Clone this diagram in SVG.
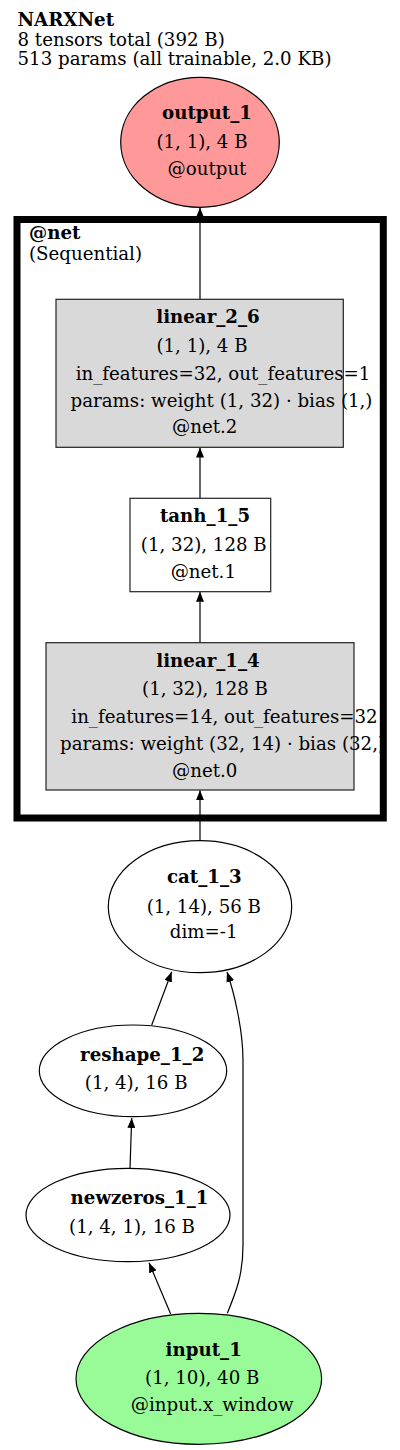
<svg xmlns="http://www.w3.org/2000/svg" width="400" height="1450" viewBox="0 0 400 1450">
<style>
text{font-family:"DejaVu Serif","Liberation Serif",serif;font-size:18.2px;fill:#000}
.b{font-weight:bold}
.m{text-anchor:middle}
.edge{fill:none;stroke:#000;stroke-width:1.2;marker-end:url(#ah)}
.ell{stroke:#000;stroke-width:1.2}
.box{stroke:#222;stroke-width:1.2}
</style>
<defs>
<marker id="ah" viewBox="0 0 10 8" refX="10" refY="4" markerWidth="10" markerHeight="8" markerUnits="userSpaceOnUse" orient="auto">
<path d="M0,0 L10,4 L0,8 z" fill="#000"/>
</marker>
</defs>
<rect width="400" height="1450" fill="#fff"/>
<g id="header">
<text class="b" x="17.5" y="26">NARXNet</text>
<text x="17.5" y="45.5">8 tensors total (392 B)</text>
<text x="17.5" y="64.5">513 params (all trainable, 2.0 KB)</text>
</g>
<g id="cluster_net">
<rect x="17" y="219.5" width="366.3" height="598.5" fill="none" stroke="#000" stroke-width="7"/>
<text class="b" x="29" y="239">@net</text>
<text x="29" y="260">(Sequential)</text>
</g>
<g id="edges">
<path class="edge" d="M200,299.3 L200,207.5"/>
<path class="edge" d="M200,498.3 L200,447.5"/>
<path class="edge" d="M200,642.7 L200,591.8"/>
<path class="edge" d="M200,840.7 L200,790.2"/>
<path class="edge" d="M151.7,1025 L171.7,971.8"/>
<path class="edge" d="M227.3,1313.3 C236,1292 243,1275 243,1245 L243,1060 C243,1030 234,992 227,972"/>
<path class="edge" d="M130,1168.3 L131.7,1118"/>
<path class="edge" d="M170.7,1314 L149,1262.7"/>
</g>
<g id="output_1">
<ellipse class="ell" cx="200" cy="142.3" rx="79.3" ry="65" fill="#ff9999"/>
<text class="b m" x="207" y="119">output_1</text>
<text class="m" x="202" y="148">(1, 1), 4 B</text>
<text class="m" x="207" y="175">@output</text>
</g>
<g id="linear_2_6">
<rect class="box" x="56" y="299.3" width="287.3" height="148" fill="#d9d9d9"/>
<text class="b m" x="208" y="323.3">linear_2_6</text>
<text class="m" x="202" y="351.7">(1, 1), 4 B</text>
<text class="m" x="223" y="380">in_features=32, out_features=1</text>
<text class="m" x="221.5" y="406.7">params: weight (1, 32) · bias (1,)</text>
<text class="m" x="204.7" y="433.3">@net.2</text>
</g>
<g id="tanh_1_5">
<rect class="box" x="130" y="498.3" width="140.7" height="93.4" fill="#fff"/>
<text class="b m" x="205" y="521.7">tanh_1_5</text>
<text class="m" x="203.8" y="550.7">(1, 32), 128 B</text>
<text class="m" x="203.3" y="578.3">@net.1</text>
</g>
<g id="linear_1_4">
<rect class="box" x="46" y="642.7" width="308" height="147.3" fill="#d9d9d9"/>
<text class="b m" x="208" y="666.7">linear_1_4</text>
<text class="m" x="205" y="695">(1, 32), 128 B</text>
<text class="m" x="224.5" y="723.3">in_features=14, out_features=32</text>
<text class="m" x="222.5" y="750">params: weight (32, 14) · bias (32,)</text>
<text class="m" x="204.7" y="776.7">@net.0</text>
</g>
<g id="cat_1_3">
<ellipse class="ell" cx="200" cy="906.7" rx="91.7" ry="66" fill="#fff"/>
<text class="b m" x="204.3" y="883.3">cat_1_3</text>
<text class="m" x="203.8" y="912.7">(1, 14), 56 B</text>
<text class="m" x="203.7" y="938.3">dim=-1</text>
</g>
<g id="reshape_1_2">
<ellipse class="ell" cx="133" cy="1070.8" rx="93.7" ry="45.8" fill="#fff"/>
<text class="b m" x="142.2" y="1061">reshape_1_2</text>
<text class="m" x="136.2" y="1089.3">(1, 4), 16 B</text>
</g>
<g id="newzeros_1_1">
<ellipse class="ell" cx="128" cy="1215" rx="102" ry="46.7" fill="#fff"/>
<text class="b m" x="139.5" y="1204">newzeros_1_1</text>
<text class="m" x="132" y="1233.3">(1, 4, 1), 16 B</text>
</g>
<g id="input_1">
<ellipse class="ell" cx="198.8" cy="1378.8" rx="122.8" ry="65.5" fill="#98fb98"/>
<text class="b m" x="203.7" y="1356">input_1</text>
<text class="m" x="202.2" y="1384">(1, 10), 40 B</text>
<text class="m" x="212.2" y="1410.7">@input.x_window</text>
</g>
</svg>
